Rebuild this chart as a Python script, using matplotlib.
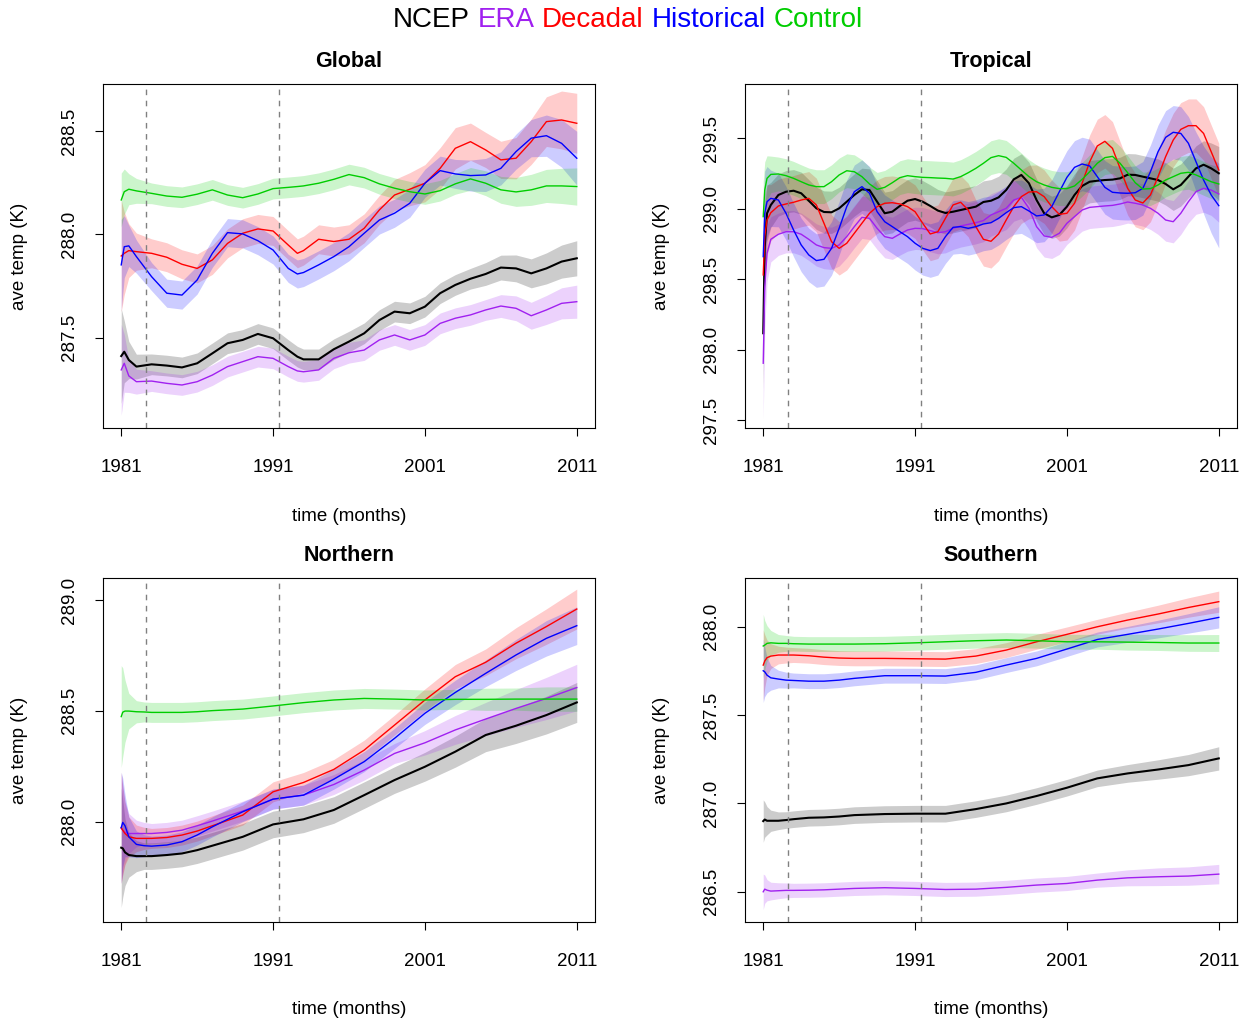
import numpy as np
import matplotlib
matplotlib.use("Agg")
import matplotlib.pyplot as plt

plt.rcParams['font.family'] = ['Liberation Sans', 'DejaVu Sans']

names = ['NCEP', 'ERA', 'Decadal', 'Historical', 'Control']
colors = ['#000000', '#A020F0', '#FF0000', '#0000FF', '#00CD00']
widths = [1.5, 1.0, 1.0, 1.0, 1.0]

# years after Jan 1981
glob_t = [0, 0.2, 0.5, 1, 2, 3, 4, 5, 6, 7, 8, 9, 10, 11, 11.6, 12, 13, 14, 15, 16, 17,
          18, 19, 20, 21, 22, 23, 24, 25, 26, 27, 28, 29, 30]
glob_ncep = [287.411, 287.432, 287.392, 287.360, 287.371, 287.365, 287.356, 287.376, 287.424,
             287.473, 287.489, 287.518, 287.497, 287.440, 287.408, 287.395, 287.395, 287.444,
             287.481, 287.521, 287.585, 287.626, 287.618, 287.650, 287.715, 287.755, 287.785,
             287.808, 287.839, 287.835, 287.811, 287.835, 287.868, 287.884]
glob_era = [287.344, 287.376, 287.315, 287.287, 287.290, 287.279, 287.271, 287.287, 287.319,
            287.360, 287.384, 287.408, 287.400, 287.360, 287.339, 287.335, 287.344, 287.400,
            287.427, 287.440, 287.489, 287.513, 287.489, 287.513, 287.569, 287.594, 287.610,
            287.634, 287.653, 287.642, 287.606, 287.634, 287.666, 287.674]
glob_dec = [287.895, 287.908, 287.921, 287.916, 287.908, 287.889, 287.855, 287.835, 287.876,
            287.956, 288.005, 288.026, 288.016, 287.948, 287.908, 287.921, 287.976, 287.965,
            287.976, 288.029, 288.118, 288.190, 288.218, 288.247, 288.319, 288.416, 288.448,
            288.408, 288.360, 288.368, 288.448, 288.545, 288.553, 288.537]
glob_hist = [287.852, 287.940, 287.944, 287.892, 287.795, 287.715, 287.706, 287.779, 287.908,
             288.008, 288.002, 287.969, 287.924, 287.835, 287.808, 287.815, 287.852, 287.892,
             287.940, 288.005, 288.069, 288.102, 288.150, 288.247, 288.308, 288.292, 288.284,
             288.287, 288.319, 288.400, 288.465, 288.477, 288.440, 288.368]
glob_ctrl = [288.166, 288.206, 288.218, 288.210, 288.198, 288.185, 288.179, 288.194, 288.215,
             288.190, 288.177, 288.195, 288.221, 288.227, 288.231, 288.234, 288.247, 288.266,
             288.289, 288.274, 288.244, 288.223, 288.206, 288.195, 288.211, 288.244, 288.268,
             288.247, 288.215, 288.205, 288.215, 288.234, 288.234, 288.231]
glob_err = [
    [0.23, 0.15, 0.09, 0.06] + [0.05] * 23 + [0.055, 0.06, 0.065, 0.07, 0.075, 0.08, 0.085],
    [0.22, 0.14, 0.08, 0.06] + [0.05] * 23 + [0.05, 0.055, 0.06, 0.065, 0.07, 0.075, 0.08],
    [0.27, 0.2, 0.13, 0.09] + [0.07] * 17 + [0.075, 0.08, 0.09, 0.1, 0.1, 0.09, 0.085, 0.09,
                                             0.1, 0.11, 0.12, 0.14, 0.145],
    [0.22, 0.15, 0.1, 0.08] + [0.068] * 20 + [0.07, 0.07, 0.075, 0.08, 0.08, 0.085, 0.09,
                                              0.1, 0.115, 0.13],
    [0.13, 0.11, 0.075, 0.06] + [0.05] * 22 + [0.055, 0.06, 0.065, 0.07, 0.075, 0.08, 0.085, 0.09],
]

trop_t = [0, 0.1, 0.25, 0.5] + list(np.arange(1, 30.5, 0.5))
trop_ncep = [298.116, 298.731, 298.968, 299.027,
             299.098, 299.121, 299.128, 299.110, 299.057, 299.003, 298.977, 298.975, 299.003,
             299.050, 299.098, 299.138, 299.133, 299.050, 298.968, 298.979, 299.020, 299.057,
             299.069, 299.050, 299.020, 298.987, 298.970, 298.979, 298.991, 299.003, 299.015,
             299.048, 299.057, 299.081, 299.133, 299.209, 299.240, 299.181, 299.062, 298.968,
             298.939, 298.956, 299.015, 299.098, 299.162, 299.192, 299.199, 299.204, 299.207,
             299.216, 299.242, 299.240, 299.228, 299.216, 299.204, 299.176, 299.138, 299.169,
             299.228, 299.287, 299.313, 299.287, 299.252]
trop_era = [297.903, 298.447, 298.684, 298.783,
            298.819, 298.837, 298.837, 298.819, 298.783, 298.743, 298.724, 298.719, 298.743,
            298.802, 298.873, 298.939, 298.932, 298.861, 298.802, 298.790, 298.821, 298.849,
            298.861, 298.859, 298.845, 298.830, 298.837, 298.861, 298.878, 298.889, 298.901,
            298.916, 298.956, 298.979, 299.003, 299.062, 299.081, 299.003, 298.873, 298.807,
            298.797, 298.826, 298.897, 298.944, 298.991, 299.010, 299.015, 299.020, 299.024,
            299.034, 299.048, 299.039, 299.027, 299.003, 298.968, 298.920, 298.908, 298.968,
            299.050, 299.121, 299.145, 299.133, 299.105]
trop_dec = [298.530, 298.802, 298.920, 298.972,
            299.020, 299.034, 299.046, 299.062, 299.074, 299.027, 298.897, 298.766, 298.719,
            298.755, 298.826, 298.897, 298.968, 299.015, 299.039, 299.043, 299.034, 299.015,
            298.979, 298.897, 298.821, 298.837, 298.932, 299.027, 299.046, 298.991, 298.873,
            298.783, 298.769, 298.821, 298.920, 299.015, 299.086, 299.119, 299.121, 299.086,
            299.015, 298.960, 298.968, 299.039, 299.181, 299.334, 299.446, 299.479, 299.429,
            299.287, 299.145, 299.062, 299.041, 299.098, 299.228, 299.370, 299.488, 299.564,
            299.590, 299.590, 299.535, 299.405, 299.275]
trop_hist = [298.660, 298.968, 299.050, 299.074,
             299.062, 298.968, 298.849, 298.743, 298.672, 298.632, 298.641, 298.719, 298.861,
             299.015, 299.121, 299.157, 299.110, 298.979, 298.908, 298.873, 298.837, 298.802,
             298.755, 298.719, 298.703, 298.719, 298.802, 298.868, 298.873, 298.861, 298.873,
             298.892, 298.901, 298.932, 298.972, 299.008, 299.015, 298.984, 298.949, 298.956,
             299.015, 299.121, 299.223, 299.294, 299.318, 299.304, 299.228, 299.152, 299.117,
             299.112, 299.110, 299.114, 299.145, 299.263, 299.405, 299.507, 299.543, 299.535,
             299.465, 299.334, 299.204, 299.098, 299.022]
trop_ctrl = [298.944, 299.133, 299.216, 299.244,
             299.247, 299.235, 299.216, 299.192, 299.169, 299.157, 299.157, 299.192, 299.240,
             299.270, 299.263, 299.228, 299.176, 299.138, 299.152, 299.185, 299.221, 299.235,
             299.228, 299.223, 299.221, 299.218, 299.216, 299.211, 299.228, 299.256, 299.287,
             299.323, 299.363, 299.377, 299.365, 299.323, 299.275, 299.228, 299.192, 299.169,
             299.152, 299.143, 299.143, 299.162, 299.209, 299.263, 299.323, 299.363, 299.372,
             299.323, 299.256, 299.185, 299.140, 299.143, 299.169, 299.204, 299.228, 299.252,
             299.259, 299.240, 299.216, 299.192, 299.176]
trop_err = [
    [0.4, 0.3, 0.2, 0.16] + [0.15] * 55 + [0.16, 0.17, 0.18, 0.19],
    [0.4, 0.3, 0.2, 0.16] + [0.15] * 55 + [0.16, 0.17, 0.18, 0.2],
    [0.35, 0.3, 0.25, 0.2] + [0.19] * 59,
    [0.35, 0.3, 0.25, 0.2] + [0.19] * 55 + [0.21, 0.24, 0.27, 0.3],
    [0.25, 0.2, 0.16, 0.13] + [0.12] * 59,
]

hemi_t = [0, 0.1, 0.25, 0.5, 1, 1.5, 2, 3, 4, 5, 6, 8, 10, 12, 14, 16, 18, 20, 22, 24, 26, 28, 30]
north_ncep = [287.883, 287.880, 287.862, 287.850, 287.845, 287.845, 287.845, 287.850, 287.857,
              287.872, 287.892, 287.932, 287.988, 288.011, 288.053, 288.120, 288.188, 288.248,
              288.316, 288.391, 288.433, 288.481, 288.538]
north_era = [287.970, 287.962, 287.952, 287.947, 287.947, 287.947, 287.947, 287.952, 287.962,
             287.982, 288.003, 288.048, 288.102, 288.120, 288.168, 288.233, 288.308, 288.356,
             288.414, 288.463, 288.511, 288.556, 288.605]
north_dec = [287.973, 287.962, 287.947, 287.932, 287.925, 287.925, 287.925, 287.929, 287.940,
             287.958, 287.982, 288.030, 288.135, 288.177, 288.236, 288.323, 288.436, 288.549,
             288.654, 288.719, 288.805, 288.880, 288.959]
north_hist = [287.974, 287.997, 287.982, 287.932, 287.898, 287.892, 287.890, 287.895, 287.910,
              287.940, 287.977, 288.045, 288.102, 288.120, 288.192, 288.271, 288.376, 288.489,
              288.583, 288.669, 288.752, 288.827, 288.884]
north_ctrl = [288.474, 288.494, 288.499, 288.499, 288.496, 288.495, 288.493, 288.493, 288.493,
              288.496, 288.501, 288.508, 288.522, 288.537, 288.549, 288.556, 288.553, 288.549,
              288.552, 288.552, 288.553, 288.553, 288.553]
north_err = [
    [0.27, 0.22, 0.15, 0.1, 0.07, 0.06] + [0.06] * 11 + [0.065, 0.07, 0.075, 0.08, 0.085, 0.09],
    [0.25, 0.2, 0.14, 0.09, 0.06, 0.05] + [0.045] * 11 + [0.055, 0.065, 0.075, 0.085, 0.095, 0.105],
    [0.25, 0.2, 0.14, 0.09, 0.06, 0.05] + [0.045] * 11 + [0.05, 0.055, 0.06, 0.07, 0.08, 0.09],
    [0.25, 0.2, 0.14, 0.09, 0.06, 0.05] + [0.045] * 11 + [0.05, 0.055, 0.06, 0.07, 0.08, 0.085],
    [0.23, 0.2, 0.14, 0.08, 0.05] + [0.045] * 14 + [0.05, 0.05, 0.055, 0.055],
]

south_ncep = [286.900, 286.909, 286.902, 286.902, 286.902, 286.906, 286.911, 286.919, 286.921,
              286.926, 286.934, 286.940, 286.942, 286.942, 286.968, 287.000, 287.042, 287.089,
              287.142, 287.170, 287.192, 287.217, 287.255]
south_era = [286.500, 286.515, 286.509, 286.504, 286.506, 286.508, 286.508, 286.509, 286.511,
             286.515, 286.519, 286.523, 286.519, 286.513, 286.515, 286.525, 286.538, 286.547,
             286.566, 286.579, 286.585, 286.589, 286.600]
south_dec = [287.783, 287.806, 287.825, 287.834, 287.840, 287.840, 287.840, 287.836, 287.828,
             287.823, 287.821, 287.821, 287.819, 287.817, 287.834, 287.868, 287.915, 287.957,
             288.000, 288.038, 288.072, 288.109, 288.142]
south_hist = [287.751, 287.745, 287.726, 287.711, 287.704, 287.698, 287.696, 287.692, 287.692,
              287.698, 287.708, 287.723, 287.723, 287.721, 287.742, 287.783, 287.821, 287.874,
              287.928, 287.957, 287.987, 288.019, 288.053]
south_ctrl = [287.891, 287.896, 287.906, 287.909, 287.906, 287.906, 287.904, 287.902, 287.902,
              287.902, 287.902, 287.904, 287.909, 287.915, 287.921, 287.925, 287.921, 287.915,
              287.915, 287.913, 287.911, 287.908, 287.908]
south_err = [
    [0.12, 0.1, 0.08, 0.06, 0.05, 0.047] + [0.047] * 13 + [0.05, 0.055, 0.06, 0.066],
    [0.1, 0.08, 0.06, 0.05, 0.045, 0.042] + [0.04] * 13 + [0.045, 0.05, 0.052, 0.055],
    [0.2, 0.15, 0.1, 0.07, 0.05, 0.045] + [0.042] * 13 + [0.045, 0.05, 0.055, 0.06],
    [0.18, 0.14, 0.1, 0.07, 0.05, 0.045] + [0.042] * 13 + [0.045, 0.05, 0.055, 0.06],
    [0.18, 0.14, 0.1, 0.07, 0.05, 0.045] + [0.042] * 13 + [0.045, 0.045, 0.047, 0.048],
]

volcanoes = [1982.65, 1991.42]  # El Chichon, Pinatubo
xticks = [1981, 1991, 2001, 2011]

panels = [
    ('Global', glob_t, [glob_ncep, glob_era, glob_dec, glob_hist, glob_ctrl], glob_err,
     (287.063, 288.727), [287.5, 288.0, 288.5]),
    ('Tropical', trop_t, [trop_ncep, trop_era, trop_dec, trop_hist, trop_ctrl], trop_err,
     (297.443, 299.886), [297.5, 298.0, 298.5, 299.0, 299.5]),
    ('Northern', hemi_t, [north_ncep, north_era, north_dec, north_hist, north_ctrl], north_err,
     (287.548, 289.099), [288.0, 288.5, 289.0]),
    ('Southern', hemi_t, [south_ncep, south_era, south_dec, south_hist, south_ctrl], south_err,
     (286.329, 288.276), [286.5, 287.0, 287.5, 288.0]),
]

W, H = 1251, 1023
boxes = [(103, 84), (745, 84), (103, 578), (745, 578)]

fig = plt.figure(figsize=(W / 100, H / 100), dpi=100)

for (title, t, series, errs, ylim, yticks), (bx, by) in zip(panels, boxes):
    ax = fig.add_axes([bx / W, 1 - (by + 344) / H, 492 / W, 344 / H])
    yrs = 1981 + np.array(t)
    for vals, err, c in zip(series, errs, colors):
        vals = np.array(vals)
        err = np.array(err)
        ax.fill_between(yrs, vals - err, vals + err, color=c, alpha=0.2, lw=0)
    for vals, c, lw in zip(series, colors, widths):
        ax.plot(yrs, vals, color=c, lw=lw)
    for v in volcanoes:
        ax.axvline(v, color='#808080', ls=(0, (4, 4)), lw=1)
    ax.set_xlim(1979.8, 2012.2)
    ax.set_ylim(*ylim)
    ax.set_xticks(xticks)
    ax.set_yticks(yticks)
    ax.set_yticklabels(['%.1f' % v for v in yticks], rotation=90, va='center')
    ax.tick_params(direction='out', length=6, width=0.8, labelsize=13.5, pad=12)
    ax.tick_params(axis='x', pad=16)
    for s in ax.spines.values():
        s.set_linewidth(0.8)
    ax.set_title(title, fontsize=15.5, fontweight='bold', pad=12)
    ax.set_xlabel('time (months)', fontsize=13.5, labelpad=23)
    ax.set_ylabel('ave temp (K)', fontsize=13.5, labelpad=24)

# coloured header
r = fig.canvas.get_renderer()
hsize = 20
txts = []
for n, c in zip(names, colors):
    txts.append(fig.text(0, 0, n, color=c, fontsize=hsize, va='center'))
sp = fig.text(0, 0, ' ', fontsize=hsize).get_window_extent(r).width
sizes = [tx.get_window_extent(r).width for tx in txts]
total = sum(sizes) + sp * (len(sizes) - 1)
x = (W - total) / 2 + 2
for tx, w in zip(txts, sizes):
    tx.set_position((x / W, 1 - 20 / H))
    x += w + sp

fig.savefig('out.png', dpi=100)
